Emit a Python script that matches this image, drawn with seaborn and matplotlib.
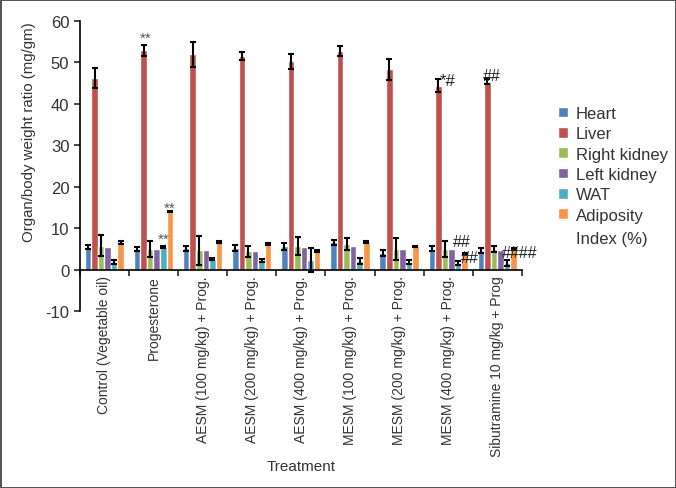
import pandas as pd
import matplotlib
matplotlib.use("Agg")
import matplotlib.pyplot as plt
import seaborn as sns

# Treatment groups (x axis)
treatments = [
    "Control (Vegetable oil)",
    "Progesterone",
    "AESM (100 mg/kg) + Prog.",
    "AESM (200 mg/kg) + Prog.",
    "AESM (400 mg/kg) + Prog.",
    "MESM (100 mg/kg) + Prog.",
    "MESM (200 mg/kg) + Prog.",
    "MESM (400 mg/kg) + Prog.",
    "Sibutramine 10 mg/kg + Prog",
]
organs = ["Heart", "Liver", "Right kidney", "Left kidney", "WAT", "Adiposity"]

# Organ/body weight ratio (mg/gm)
heart = [5.4, 5.0, 5.2, 5.3, 5.6, 6.6, 4.0, 5.0, 4.6]
liver = [46.3, 52.9, 52.0, 51.6, 50.3, 52.8, 48.3, 44.4, 45.3]
right_kidney = [5.8, 5.0, 4.7, 4.4, 5.6, 6.2, 5.0, 5.0, 5.0]
left_kidney = [5.5, 5.0, 4.7, 4.6, 5.4, 5.8, 5.0, 5.0, 4.8]
wat = [1.8, 5.5, 2.6, 2.2, 2.3, 2.0, 1.8, 1.5, 1.6]
adiposity = [6.6, 14.0, 6.6, 6.2, 4.5, 6.7, 5.6, 3.8, 4.9]

# error bars (SEM)
heart_err = [0.5, 0.4, 0.6, 0.7, 0.8, 0.6, 0.8, 0.6, 0.6]
liver_err = [2.4, 1.3, 3.0, 1.0, 1.8, 1.2, 2.5, 1.5, 0.6]
right_kidney_err = [2.6, 1.9, 3.5, 1.4, 2.2, 1.5, 2.6, 2.0, 0.8]
left_kidney_err = [0, 0, 0, 0, 0, 0, 0, 0, 0]
wat_err = [0.4, 0.3, 0.3, 0.3, 2.8, 0.7, 0.4, 0.5, 0.8]
adiposity_err = [0.4, 0.2, 0.3, 0.2, 0.2, 0.2, 0.2, 0.1, 0.2]

colors = ["#4F81BD", "#C0504D", "#9BBB59", "#8064A2", "#4BACC6", "#F79646"]

values = [heart, liver, right_kidney, left_kidney, wat, adiposity]
errors = [heart_err, liver_err, right_kidney_err, left_kidney_err, wat_err, adiposity_err]

rows = []
for organ, vals in zip(organs, values):
    for t, v in zip(treatments, vals):
        rows.append({"Treatment": t, "Organ": organ, "Value": v})
df = pd.DataFrame(rows)

sns.set_style("ticks")
plt.rcParams["font.family"] = ["Liberation Sans", "DejaVu Sans"]
plt.rcParams["axes.unicode_minus"] = False
txt = "#333333"

fig = plt.figure(figsize=(6.76, 4.89), dpi=100)
ax = fig.add_axes([0.118, 0.362, 0.654, 0.593])

sns.barplot(data=df, x="Treatment", y="Value", hue="Organ", palette=colors,
            order=treatments, hue_order=organs, width=0.8, saturation=1,
            errorbar=None, ax=ax)

bars = list(ax.containers)

# error bars on top of each bar
for j, cont in enumerate(bars):
    for i, bar in enumerate(cont):
        e = errors[j][i]
        if e > 0:
            ax.errorbar(bar.get_x() + bar.get_width() / 2, bar.get_height(), yerr=e,
                        fmt="none", ecolor="black", elinewidth=1.5, capsize=2, capthick=1.5)

def bar_xy(j, i):
    b = bars[j][i]
    return b.get_x() + b.get_width() / 2, b.get_height() + errors[j][i]

# significance marks
def mark(j, i, s, dx=0, dy=1.0, size=11, color="#555555", ha="center"):
    x, y = bar_xy(j, i)
    ax.text(x + dx, y + dy, s, ha=ha, va="bottom", fontsize=size, color=color)

mark(1, 1, "**", dx=0.04, dy=0.1)
mark(4, 1, "**", dy=0.0)
mark(5, 1, "**", dy=-1.0)
dark = "#222222"
mark(1, 7, "*#", dx=0.19, dy=-2.0, size=12, color=dark)
mark(4, 7, "##", dx=0.07, dy=2.9, size=11.5, color=dark)
mark(5, 7, "##", dx=0.11, dy=-2.7, size=11.5, color=dark)
mark(1, 8, "##", dx=0.08, dy=-0.9, size=11.5, color=dark)
mark(4, 8, "####", dx=0.25, dy=-0.2, size=11.5, color=dark)

ax.set_ylim(-10, 60)
ax.set_yticks(range(-10, 61, 10))
ax.set_xlim(-0.5, len(treatments) - 0.5)

# x axis drawn at zero, ticks between groups
ax.spines["bottom"].set_position(("data", 0))
ax.spines["top"].set_visible(False)
ax.spines["right"].set_visible(False)
for sp in ["left", "bottom"]:
    ax.spines[sp].set_color("black")
    ax.spines[sp].set_linewidth(1.2)
ax.set_xticks([i + 0.5 for i in range(-1, len(treatments))], minor=True)
ax.tick_params(axis="x", which="major", length=0, pad=4)
ax.tick_params(axis="x", which="minor", length=4, width=1.2, direction="out")
ax.tick_params(axis="y", length=4, width=1.2, direction="out")
ax.set_xticklabels(treatments, rotation=90, fontsize=10, color=txt)
for lab in ax.get_yticklabels():
    lab.set_fontsize(12)
    lab.set_color(txt)

ax.set_xlabel("Treatment", fontsize=11, color=txt, labelpad=2)
ax.set_ylabel("Organ/body weight ratio (mg/gm)", fontsize=10.8, color=txt)
ax.yaxis.set_label_coords(-0.10, 0.62)

leg = ax.legend(loc="upper left", bbox_to_anchor=(0.815, 0.795), bbox_transform=fig.transFigure,
                frameon=False, fontsize=12, handlelength=0.6, handleheight=0.6,
                handletextpad=0.5, labelspacing=0.32, borderaxespad=0)
for t in leg.get_texts():
    t.set_color(txt)

# second line of the last legend entry
fig.canvas.draw()
last = leg.get_texts()[-1].get_window_extent()
x0, y0 = fig.transFigure.inverted().transform((last.x0, last.y0 - 23))
fig.text(x0, y0, "Index (%)", fontsize=12, color=txt, ha="left", va="bottom")

fig.patch.set_edgecolor("#555555")
fig.patch.set_linewidth(2)

fig.savefig("out.png", dpi=100, edgecolor=fig.get_edgecolor())
